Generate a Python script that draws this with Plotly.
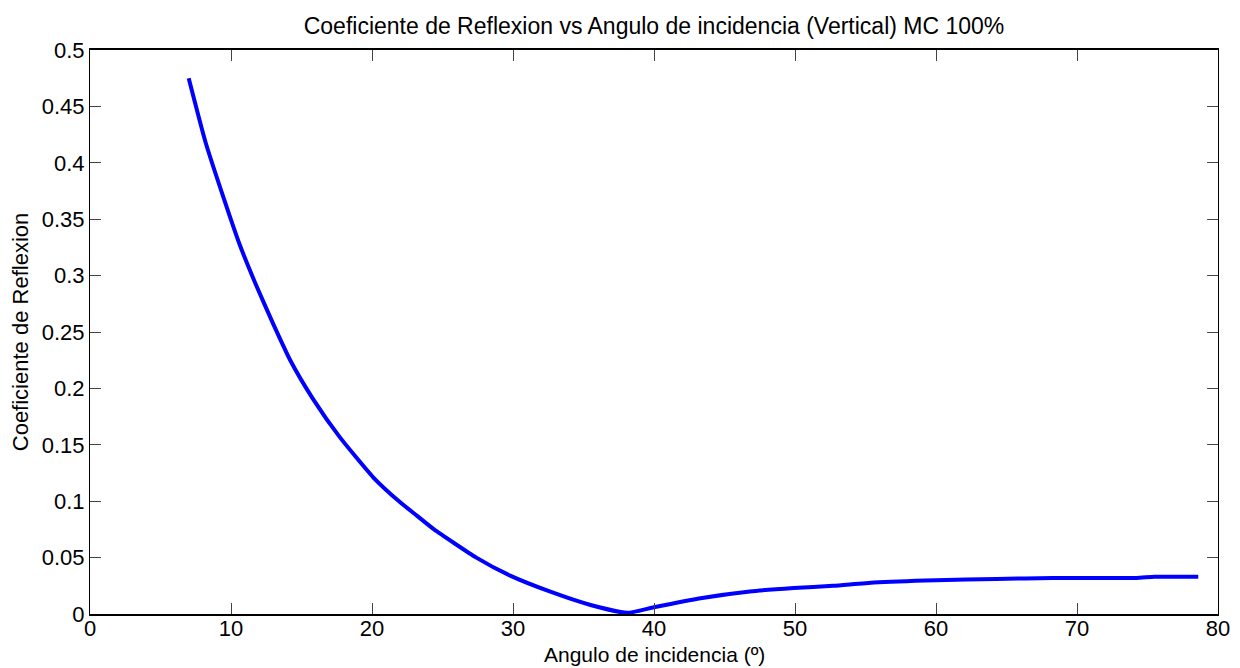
import plotly.graph_objects as go

# Angle of incidence (degrees) and reflection coefficient, vertical polarisation
angulo = [7.0, 8.2, 9.5, 10.6, 11.8, 13.0, 14.2, 15.8, 17.7, 20.1, 22.0, 23.2,
          24.4, 27.4, 29.8, 32.6, 35.5, 38.1, 40.0, 43.3, 46.8, 49.9, 52.7,
          55.6, 60.0, 64.3, 68.3, 74.2, 75.5, 78.6]
coef_reflexion = [0.475, 0.418, 0.368, 0.328, 0.291, 0.257, 0.225, 0.191, 0.157,
                  0.121, 0.099, 0.087, 0.075, 0.050, 0.034, 0.020, 0.008, 0.001,
                  0.006, 0.014, 0.020, 0.023, 0.025, 0.028, 0.030, 0.031, 0.032,
                  0.032, 0.033, 0.033]

titulo = "Coeficiente de Reflexion vs Angulo de incidencia (Vertical) MC 100%"
etiqueta_x = "Angulo de incidencia (º)"
etiqueta_y = "Coeficiente de Reflexion"

FONT = "Liberation Sans, Arial, sans-serif"

fig = go.Figure(
    go.Scatter(
        x=angulo,
        y=coef_reflexion,
        mode="lines",
        line=dict(color="#0000ff", width=4, shape="spline", smoothing=0.5),
        showlegend=False,
    )
)

axis_common = dict(
    showgrid=False,
    zeroline=False,
    showline=True,
    linecolor="#000000",
    ticks="inside",
    ticklen=11,
    tickwidth=1,
    tickcolor="#444444",
    mirror="ticks",
    automargin=False,
    tickfont=dict(family=FONT, size=22, color="#000000"),
)

fig.update_xaxes(
    range=[0, 80],
    dtick=10,
    tick0=0,
    linewidth=2,
    ticklabelstandoff=-6,
    **axis_common,
)
fig.update_yaxes(
    range=[0, 0.5],
    dtick=0.05,
    tick0=0,
    linewidth=1.2,
    title=dict(text=etiqueta_y, font=dict(family=FONT, size=22, color="#000000"), standoff=6),
    **axis_common,
)

# x-axis title placed just under the tick labels
fig.add_annotation(
    text=etiqueta_x,
    xref="paper", x=0.5, xanchor="center",
    yref="paper", y=-(668 - 614) / 564, yanchor="bottom",
    showarrow=False,
    font=dict(family=FONT, size=21, color="#000000"),
)

fig.update_layout(
    width=1240,
    height=668,
    margin=dict(l=90, r=22, t=50, b=54),
    paper_bgcolor="#ffffff",
    plot_bgcolor="#ffffff",
    title=dict(
        text=titulo,
        font=dict(family=FONT, size=23, color="#000000"),
        x=0.5,
        xref="paper",
        xanchor="center",
        y=1 - 26 / 668,
        yref="container",
        yanchor="middle",
    ),
)

fig.write_html("out.html")
